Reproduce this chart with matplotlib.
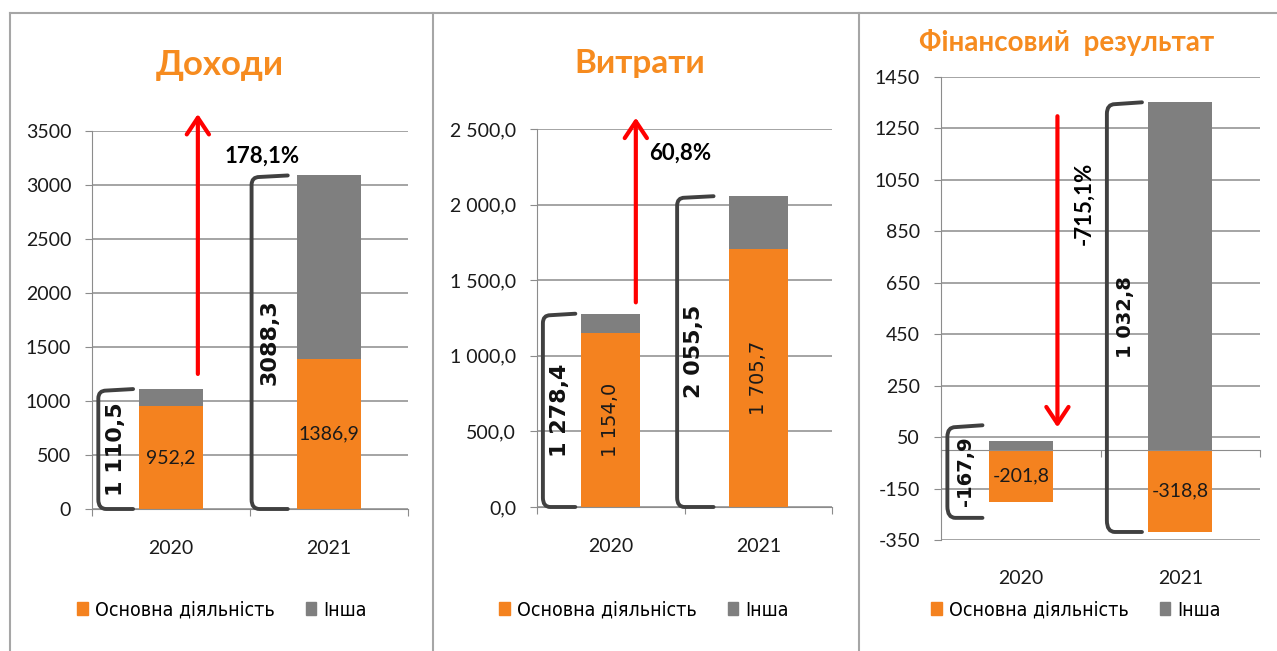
import numpy as np
import matplotlib.pyplot as plt
from matplotlib.patches import Patch, PathPatch
from matplotlib.path import Path
from matplotlib.lines import Line2D

W, H = 1277, 651

years = ["2020", "2021"]

income_main = [952.2, 1386.9]
income_total = [1110.5, 3088.3]
expense_main = [1154.0, 1705.7]
expense_total = [1278.4, 2055.5]
result_main = [-201.8, -318.8]
result_total = [-167.9, 1032.8]

income_ticks = [0, 500, 1000, 1500, 2000, 2500, 3000, 3500]
expense_ticks = [0, 500, 1000, 1500, 2000, 2500]
result_ticks = [-350, -150, 50, 250, 450, 650, 850, 1050, 1250, 1450]

income_sum_labels = ["1 110,5", "3088,3"]
expense_sum_labels = ["1 278,4", "2 055,5"]
result_sum_labels = ["-167,9", "1 032,8"]

titles = ["Доходи", "Витрати", "Фінансовий  результат"]
legend_labels = ["Основна діяльність", "Інша"]

ORANGE = "#F4821F"
GRAY = "#7F7F7F"
TITLE_C = "#F68B1F"
LINE_C = "#8C8C8C"
TEXT_C = "#1A1A1A"
SANS = ["Lato", "Open Sans", "DejaVu Sans"]

plt.rcParams["font.family"] = SANS


def fmt(v, sep="", dec=1):
    s = f"{abs(v):,.{dec}f}".replace(",", sep).replace(".", ",")
    return ("-" if v < 0 else "") + s


def px_rect(x0, y0, x1, y1):
    return [x0 / W, 1 - y1 / H, (x1 - x0) / W, (y1 - y0) / H]


fig = plt.figure(figsize=(W / 100, H / 100), dpi=100)

# sheet frame lines
for xs, ys in [((10, W), (13, 13)), ((10, 10), (13, H)),
               ((432.5, 432.5), (13, H)), ((858.5, 858.5), (13, H))]:
    fig.add_artist(Line2D([x / W for x in xs], [1 - y / H for y in ys],
                          color="#A6A6A6", lw=1.5))


def bracket(ax, xbar, lo, hi, yr, off):
    span = hi - lo
    if span < 0.2 * yr:
        mid = (lo + hi) / 2
        lo, hi = mid - 0.1 * yr, mid + 0.1 * yr
    xv = xbar - 0.26 - off
    xh = xbar - 0.04 - off * 0.7
    c = 0.05
    dy = 0.025 * yr
    verts = [(xh, hi), (xv + c, hi - 0.004 * yr), (xv, hi - 0.004 * yr), (xv, hi - dy),
             (xv, lo + dy), (xv, lo), (xv + c, lo), (xh, lo)]
    codes = [Path.MOVETO, Path.LINETO, Path.CURVE3, Path.CURVE3,
             Path.LINETO, Path.CURVE3, Path.CURVE3, Path.LINETO]
    ax.add_patch(PathPatch(Path(verts, codes), fill=False, ec="#404040",
                           lw=2.8, capstyle="round", joinstyle="round",
                           clip_on=False, zorder=3))
    return xv, lo, hi


def draw_panel(rect, main, total, ticks, tick_sep, tick_dec, sum_labels,
               value_sep, value_rot, sum_size, offsets):
    ax = fig.add_axes(rect)
    x = np.arange(len(years))
    other = [t - m for t, m in zip(total, main)]
    other_bottom = [max(m, 0) for m in main]
    ax.bar(x, main, width=0.4, color=ORANGE, zorder=2)
    ax.bar(x, other, width=0.4, bottom=other_bottom, color=GRAY, zorder=2)

    ax.set_xlim(-0.5, 1.5)
    ax.set_ylim(ticks[0], ticks[-1])
    ax.set_yticks(ticks)
    ax.set_yticklabels([fmt(t, tick_sep, tick_dec) for t in ticks])
    ax.set_xticks([-0.5, 0.5, 1.5])
    ax.set_xticklabels([])
    ax.set_axisbelow(True)
    ax.grid(axis="y", color=LINE_C, lw=1.1)
    for s in ["top", "right"]:
        ax.spines[s].set_visible(False)
    ax.spines["left"].set_color(LINE_C)
    ax.spines["bottom"].set_color(LINE_C)
    ax.spines["bottom"].set_position(("data", 0))
    ax.tick_params(axis="y", direction="out", length=5, color=LINE_C,
                   pad=10, labelsize=14, labelcolor=TEXT_C)
    ax.tick_params(axis="x", direction="out", length=5, color=LINE_C)

    for i, yr in enumerate(years):
        ax.annotate(yr, xy=(i, 0), xycoords=ax.get_xaxis_transform(),
                    xytext=(0, -39), textcoords="offset pixels",
                    ha="center", va="center", fontsize=14, color=TEXT_C)

    yrange = ticks[-1] - ticks[0]
    for i in range(len(years)):
        if value_rot:
            ax.text(i, main[i] / 2, fmt(main[i], value_sep), rotation=90,
                    ha="center", va="center", fontsize=14, color=TEXT_C,
                    family="DejaVu Sans", zorder=4)
        else:
            ax.text(i, main[i] / 2, fmt(main[i], value_sep),
                    ha="center", va="center", fontsize=14, color=TEXT_C,
                    zorder=4)
        top = max(main[i], 0) + max(other[i], 0)
        bottom = min(main[i], 0) + min(other[i], 0)
        xv, lo, hi = bracket(ax, i - 0.2, bottom, top, yrange, offsets[i])
        ax.text(xv + 0.115, (lo + hi) / 2, sum_labels[i], rotation=90,
                ha="center", va="center", fontsize=sum_size,
                fontweight="bold", family="DejaVu Sans", color="#111111",
                zorder=4)
    return ax


def arrow(ax, xpos, y0, y1):
    ax.annotate("", xy=(xpos, y1), xytext=(xpos, y0),
                arrowprops=dict(arrowstyle="->,head_length=0.6,head_width=0.4",
                                color="#FF0000", lw=3, mutation_scale=20,
                                shrinkA=0, shrinkB=0),
                annotation_clip=False)


def growth(total):
    return (total[1] - total[0]) / total[0] * 100


def legend(cx):
    fig.legend(handles=[Patch(color=ORANGE), Patch(color=GRAY)],
               labels=legend_labels, loc="center",
               bbox_to_anchor=(cx / W, 1 - 610 / H), ncol=2, frameon=False,
               prop={"family": "DejaVu Sans", "stretch": "condensed", "size": 14},
               handlelength=0.55, handleheight=0.6, handletextpad=0.35,
               columnspacing=1.6)


# Доходи
ax1 = draw_panel(px_rect(92, 131, 408, 509), income_main, income_total,
                 income_ticks, "", 0, income_sum_labels, "", False, 16, [0, 0.03])
r1 = income_ticks[-1] - income_ticks[0]
arrow(ax1, 0.17, income_total[0] + 0.04 * r1, income_ticks[-1] + 0.045 * r1)
ax1.annotate(fmt(growth(income_total)) + "%", xy=(0.17, income_ticks[-1] + 0.045 * r1),
             xytext=(64, -42), textcoords="offset pixels", ha="center",
             va="center", fontsize=16, fontweight="bold", color="#000000",
             annotation_clip=False)
fig.text(220 / W, 1 - 65 / H, titles[0], ha="center", va="center",
         fontsize=25, fontweight="bold", color=TITLE_C)
legend(222)

# Витрати
ax2 = draw_panel(px_rect(537, 129, 832, 507), expense_main, expense_total,
                 expense_ticks, " ", 1, expense_sum_labels, " ", True, 16, [0, 0.09])
r2 = expense_ticks[-1] - expense_ticks[0]
arrow(ax2, 0.17, expense_total[0] + 0.03 * r2, expense_ticks[-1] + 0.03 * r2)
ax2.annotate(fmt(growth(expense_total)) + "%", xy=(0.17, expense_ticks[-1] + 0.03 * r2),
             xytext=(44, -36), textcoords="offset pixels", ha="center",
             va="center", fontsize=16, fontweight="bold", color="#000000",
             annotation_clip=False)
fig.text(640 / W, 1 - 63 / H, titles[1], ha="center", va="center",
         fontsize=24, fontweight="bold", color=TITLE_C)
legend(644)

# Фінансовий результат
ax3 = draw_panel(px_rect(941, 77, 1260, 540), result_main, result_total,
                 result_ticks, "", 0, result_sum_labels, "", False, 14, [0, 0])
r3 = result_ticks[-1] - result_ticks[0]
top21 = result_total[1] - min(result_main[1], 0)
top20 = result_total[0] - min(result_main[0], 0)
arrow(ax3, 0.23, top21 - 0.03 * r3, top20 + 0.03 * r3)
ax3.annotate(fmt(growth(result_total)) + "%", xy=(0.23, top21 - 0.03 * r3),
             xytext=(27, -87), textcoords="offset pixels", ha="center",
             va="center", rotation=90, fontsize=16, fontweight="bold",
             color="#000000", annotation_clip=False)
fig.text(1067 / W, 1 - 42 / H, titles[2], ha="center", va="center",
         fontsize=20, fontweight="bold", color=TITLE_C)
legend(1076)

fig.savefig("out.png", dpi=100, facecolor="white")
